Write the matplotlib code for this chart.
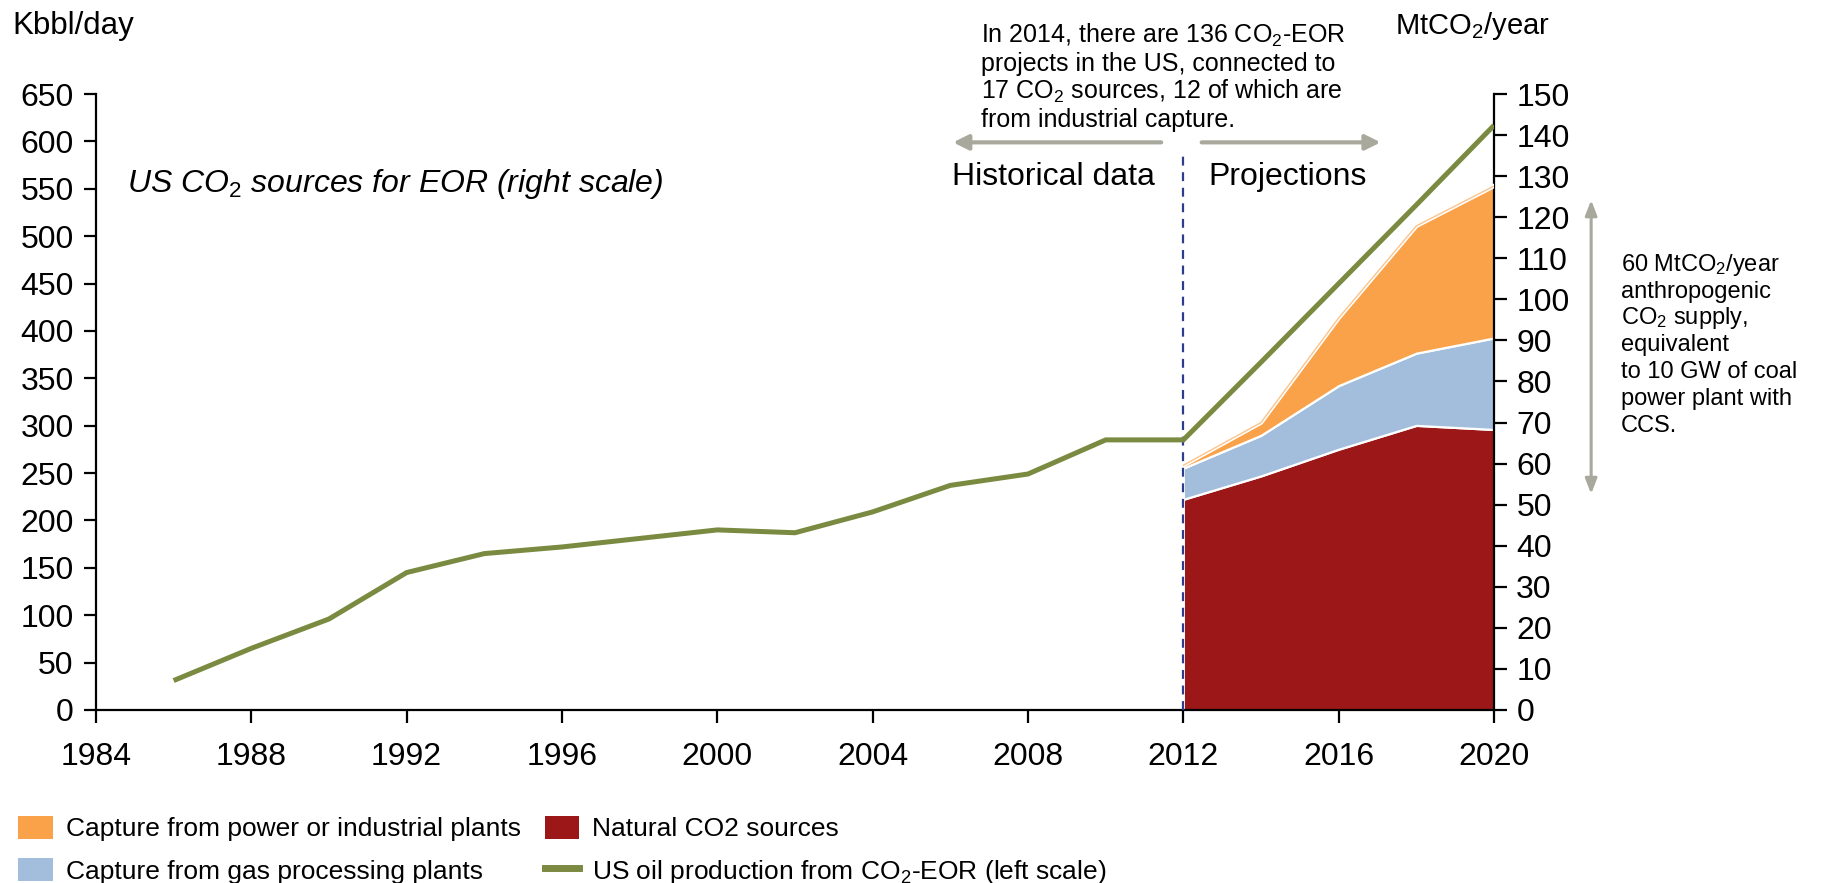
import matplotlib
matplotlib.use("Agg")
import matplotlib.pyplot as plt
import numpy as np
from matplotlib.patches import Patch
from matplotlib.lines import Line2D

plt.rcParams["font.family"] = ["Liberation Sans", "DejaVu Sans"]
plt.rcParams["mathtext.fontset"] = "custom"
plt.rcParams["mathtext.rm"] = "Liberation Sans"
plt.rcParams["mathtext.it"] = "Liberation Sans:italic"
plt.rcParams["mathtext.bf"] = "Liberation Sans:bold"

# US oil production from CO2-EOR, kbbl/day (left scale)
oil_years = [1986, 1988, 1990, 1992, 1994, 1996, 1998, 2000, 2002, 2004,
             2006, 2008, 2010, 2012, 2014, 2016, 2018, 2020]
oil_kbbl = [31, 65, 96, 145, 165, 172, 181, 190, 187, 209,
            237, 249, 285, 285, 367, 450, 533, 617]

# CO2 sources for EOR, MtCO2/year (right scale), stacked
src_years = [2012, 2014, 2016, 2018, 2020]
natural_co2 = [51.3, 57.0, 63.5, 69.3, 68.3]
gas_processing = [7.6, 9.9, 15.5, 17.6, 22.3]
power_industrial = [0.7, 3.1, 16.5, 31.0, 37.0]

x_ticks = list(range(1984, 2021, 4))
left_ticks = list(range(0, 651, 50))
right_ticks = list(range(0, 151, 10))

c_nat = "#9B1718"
c_gas = "#A3BEDC"
c_pow = "#F9A24A"
c_pow_edge = "#FBC48C"
c_oil = "#7A8A40"
c_arrow = "#A8A89C"
c_dash = "#2E3C8E"

fig = plt.figure(figsize=(18.35, 8.83), dpi=100)
ax = fig.add_axes([0.0523, 0.196, 0.7619, 0.6975])
ax2 = ax.twinx()
ax.set_zorder(ax2.get_zorder() + 1)
ax.patch.set_visible(False)

# stacked CO2 sources
ax2.stackplot(src_years, natural_co2, gas_processing, power_industrial,
              colors=[c_nat, c_gas, c_pow], edgecolor="white", linewidth=1.6)
total_co2 = np.sum([natural_co2, gas_processing, power_industrial], axis=0)
ax2.plot(src_years, total_co2, color="white", lw=3.2, zorder=3)
ax2.plot(src_years, total_co2, color=c_pow_edge, lw=1.0, zorder=3)

# oil production line
ax.plot(oil_years, oil_kbbl, color=c_oil, lw=3.6, solid_capstyle="butt",
        solid_joinstyle="miter", zorder=5)

# boundary between historical data and projections
ax.plot([2012, 2012], [0, 591], color=c_dash, lw=1.6, ls=(0, (4, 3)), zorder=4,
        clip_on=False)

ax.set_xlim(1984, 2020)
ax.set_ylim(0, 650)
ax2.set_ylim(0, 150)
ax.set_xticks(x_ticks)
ax.set_yticks(left_ticks)
ax2.set_yticks(right_ticks)

for a in (ax, ax2):
    a.spines["top"].set_visible(False)
    for s in a.spines.values():
        s.set_linewidth(1.6)
ax.spines["right"].set_visible(False)
ax2.spines["left"].set_visible(False)
ax2.spines["bottom"].set_visible(False)

ax.tick_params(axis="x", direction="out", length=9, width=1.6, pad=14, labelsize=23)
ax.tick_params(axis="y", direction="out", length=9, width=1.6, pad=7, labelsize=23)
ax2.tick_params(axis="y", direction="out", length=9, width=1.6, pad=7, labelsize=23)

# units
fig.text(12 / 1835, 1 - 26 / 883, "Kbbl/day", fontsize=22.5, ha="left", va="center")
fig.text(1472 / 1835, 1 - 26 / 883, r"MtCO$_2$/year", fontsize=21, ha="center", va="center")

# series title
ax.text(1984.8, 555, r"US CO$_\mathit{2}$ sources for EOR (right scale)", fontsize=23,
        style="italic", ha="left", va="center")

# historical / projection labels and arrows
ax.text(2008.65, 562, "Historical data", fontsize=23, ha="center", va="center")
ax.text(2014.67, 562, "Projections", fontsize=23, ha="center", va="center")
arrow_kw = dict(arrowstyle="-|>,head_length=0.9,head_width=0.45", color=c_arrow, lw=3)
ax.annotate("", xy=(2006.0, 599), xytext=(2011.5, 599), arrowprops=arrow_kw,
            annotation_clip=False)
ax.annotate("", xy=(2017.15, 599), xytext=(2012.4, 599), arrowprops=arrow_kw,
            annotation_clip=False)

note_lines = [
    r"In 2014, there are 136 CO$_2$-EOR",
    "projects in the US, connected to",
    r"17 CO$_2$ sources, 12 of which are",
    "from industrial capture.",
]
for i, line in enumerate(note_lines):
    ax.text(2006.8, 711.5 - i * 29.6, line, fontsize=18, ha="left", va="center",
            clip_on=False)

# anthropogenic supply bracket
ax.annotate("", xy=(2022.5, 541), xytext=(2022.5, 225),
            arrowprops=dict(arrowstyle="<|-|>,head_length=0.9,head_width=0.35",
                            color=c_arrow, lw=2.2), annotation_clip=False)
side_lines = [
    r"60 MtCO$_2$/year",
    "anthropogenic",
    r"CO$_2$ supply,",
    "equivalent",
    "to 10 GW of coal",
    "power plant with",
    "CCS.",
]
for i, line in enumerate(side_lines):
    ax.text(2023.26, 470 - i * 28.4, line, fontsize=17, ha="left", va="center",
            clip_on=False)

# legend
handles = [
    Patch(facecolor=c_pow, edgecolor="none"),
    Patch(facecolor=c_gas, edgecolor="none"),
    Patch(facecolor=c_nat, edgecolor="none"),
    Line2D([0], [0], color=c_oil, lw=5),
]
labels = [
    "Capture from power or industrial plants",
    "Capture from gas processing plants",
    "Natural CO2 sources",
    r"US oil production from CO$_2$-EOR (left scale)",
]
fig.legend(handles, labels, loc="lower left", bbox_to_anchor=(0.0, -0.024), ncol=2,
           frameon=False, fontsize=19, handlelength=1.3, handleheight=1.0,
           handletextpad=0.5, columnspacing=0.9, labelspacing=0.62, borderaxespad=0.3)

fig.savefig("out.png", dpi=100)
